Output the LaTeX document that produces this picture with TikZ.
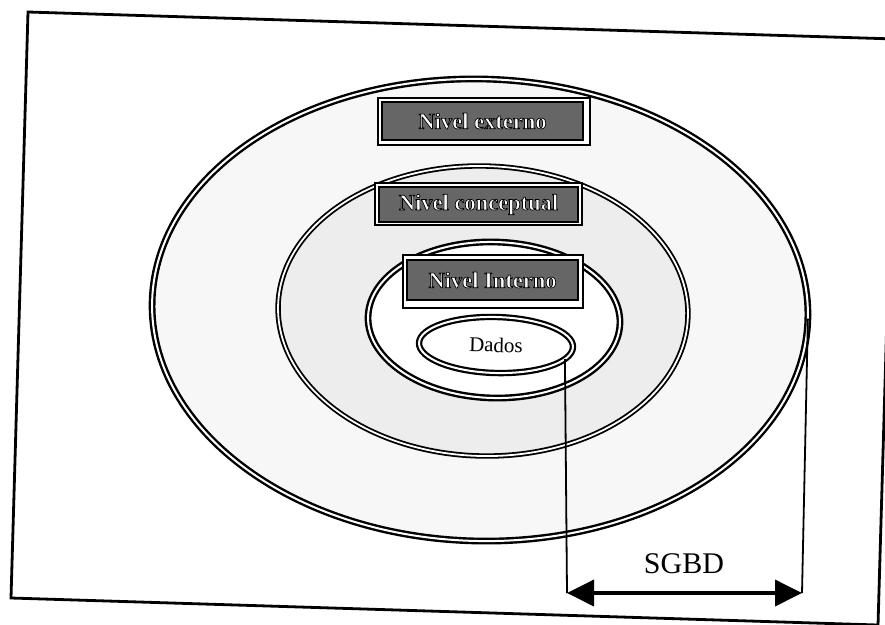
\documentclass[tikz,border=0pt]{standalone}
\usepackage{fontspec}
\setmainfont{Liberation Serif}
\usetikzlibrary{shapes.geometric,arrows.meta,calc}

% white lettering stroked in black (fill + stroke text rendering mode)
\newcommand\outlined[1]{{\color{white}%
  \special{pdf:literal direct 2 Tr 0.7 w 0 G 1 j}#1%
  \special{pdf:literal direct 0 Tr}}}

\begin{document}
\begin{tikzpicture}[x=1pt,y=-1pt,
  ring/.style={ellipse, draw=black, line width=2.4pt, double=white,
    double distance=2pt, inner sep=0pt, outer sep=0pt, rotate=-1.5},
  boxframe/.style={draw=black, line width=1.5pt, fill=white, inner sep=0pt},
  panel/.style={draw=black, line width=2.6pt, fill=black!60, inner sep=0pt,
    font=\fontsize{22.5}{24}\selectfont\bfseries},
  dimline/.style={line width=1.8pt},
  dimarrow/.style={line width=3.8pt,
    {Triangle[length=27pt,width=26pt]}-{Triangle[length=27pt,width=26pt]}},
  frameline/.style={line width=2.8pt, line join=miter}
]
\useasboundingbox (0,0) rectangle (885,624);
\clip (0,0) rectangle (885,624);

% surrounding frame (slightly tilted sheet)
\draw[frameline] (28,12) -- (895,39) -- (878,625) -- (11,598) -- cycle;

% nested levels
\node[ring, fill=black!3, minimum width=656pt, minimum height=462pt] (outer) at (480,310) {};
\node[ring, fill=black!7, line width=1.8pt, double distance=1.8pt,
      minimum width=410pt, minimum height=290pt] (middle) at (483,311) {};
\node[ring, fill=white, minimum width=252pt, minimum height=156pt] (inner) at (494,320) {};
\node[ring, fill=white, line width=2.2pt, minimum width=154pt, minimum height=56pt,
      font=\fontsize{21}{23}\selectfont] (dados) at (496,345) {Dados};

% level labels
\node[boxframe, minimum width=212pt, minimum height=47pt] (extframe) at (484,121.5) {};
\node[panel, minimum width=201pt, minimum height=38pt] (ext) at (482.5,121) {\outlined{Nivel externo}};

\node[boxframe, minimum width=207pt, minimum height=42pt] (concframe) at (478.5,204) {};
\node[panel, minimum width=199pt, minimum height=35pt] (conc) at (478.5,204.5) {\outlined{Nivel conceptual}};

\node[boxframe, minimum width=180pt, minimum height=53pt] (intframe) at (493,281.5) {};
\node[panel, minimum width=171pt, minimum height=40pt] (intern) at (492.5,280) {\outlined{Nivel Interno}};

% SGBD extent
\coordinate (la) at (567,593);
\coordinate (ra) at (802,593);
\draw[dimline] (dados.-10) -- (la);
\draw[dimline] (outer.east) -- (ra);
\draw[dimarrow] (la) -- (ra);
\node[font=\fontsize{30}{32}\selectfont, inner sep=0pt] (sgbd) at (684,564) {SGBD};
\end{tikzpicture}
\end{document}
